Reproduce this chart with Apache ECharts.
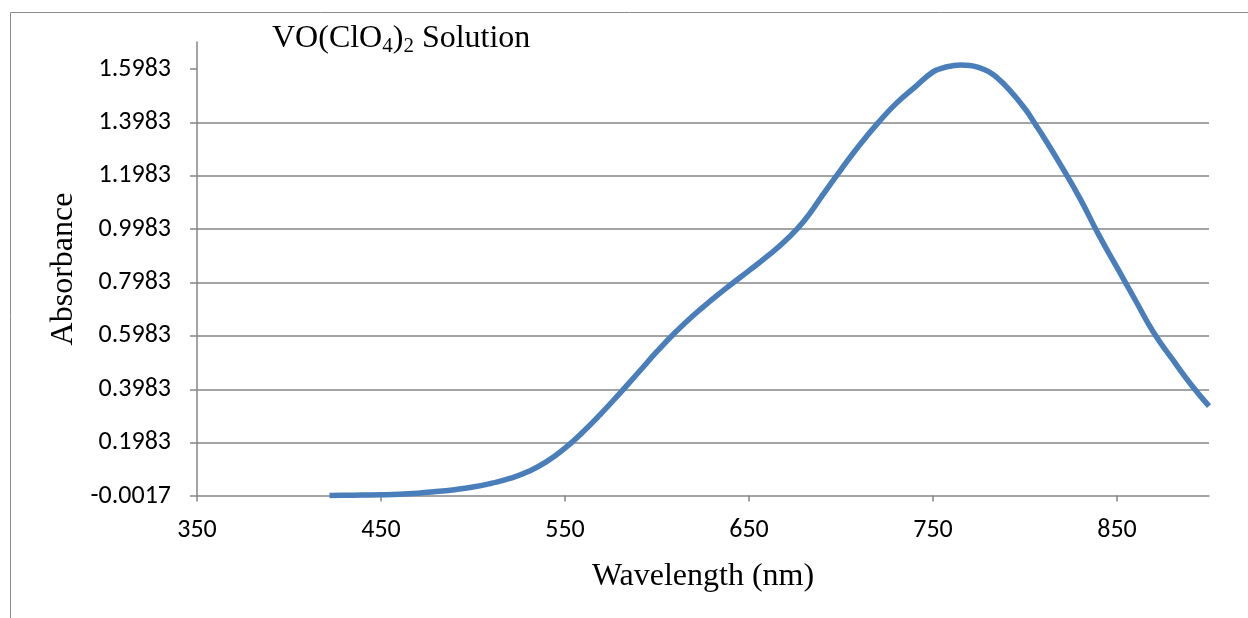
<!DOCTYPE html>
<html>
<head>
<meta charset="utf-8">
<script src="https://cdn.jsdelivr.net/npm/echarts@6/dist/echarts.min.js"></script>
<style>
html,body{margin:0;padding:0;background:#fff;}
#chart{width:1248px;height:618px;}
</style>
</head>
<body>
<div id="chart"></div>
<script>
// ---- data ----
const wavelength = [422,430,440,450,460,470,480,490,500,510,520,530,540,550,560,570,580,590,600,610,620,630,640,650,660,670,680,690,700,710,720,730,740,750,755,760,765,770,775,780,785,790,800,805,810,820,830,840,850,860,870,880,890,900];
const absorbance = [0.000,0.001,0.002,0.003,0.005,0.009,0.015,0.022,0.032,0.046,0.064,0.090,0.127,0.178,0.240,0.310,0.385,0.462,0.540,0.612,0.677,0.735,0.790,0.843,0.897,0.957,1.030,1.126,1.222,1.313,1.396,1.470,1.530,1.588,1.602,1.610,1.614,1.612,1.604,1.590,1.565,1.532,1.450,1.398,1.345,1.232,1.112,0.978,0.855,0.732,0.610,0.512,0.418,0.335];
const xTicks = [350,450,550,650,750,850];
const yTicks = [-0.0017,0.1983,0.3983,0.5983,0.7983,0.9983,1.1983,1.3983,1.5983];
const titleText = '{m|VO(ClO}{s|4}{m|)}{s|2}{m| Solution}';
const xName = 'Wavelength (nm)';
const yName = 'Absorbance';

const seriesData = wavelength.map((w, i) => [w, absorbance[i]]);
const serif = "'Times New Roman','Liberation Serif',serif";
const sans = "Carlito,Calibri,Lato,sans-serif";
const gray = '#868686';

const chart = echarts.init(document.getElementById('chart'), null, {renderer: 'canvas'});
chart.setOption({
  animation: false,
  backgroundColor: '#fff',
  graphic: [{
    type: 'rect', silent: true, z: -10,
    shape: {x: 10.5, y: 12.5, width: 1400, height: 800},
    style: {fill: 'none', stroke: '#8c8c8c', lineWidth: 1}
  }],
  title: {
    text: titleText,
    left: 267, top: 15,
    textStyle: {
      fontWeight: 'normal',
      rich: {
        m: {fontFamily: serif, fontSize: 32, fontWeight: 'normal', color: '#000', lineHeight: 34},
        s: {fontFamily: serif, fontSize: 21, fontWeight: 'normal', color: '#000', padding: [16, 0, 0, 0]}
      }
    }
  },
  grid: {left: 197, right: 39, top: 42, bottom: 122, containLabel: false},
  xAxis: {
    type: 'value', min: 350, max: 900, interval: 100,
    name: xName, nameLocation: 'middle', nameGap: 65,
    nameTextStyle: {fontFamily: serif, fontSize: 32, color: '#000'},
    axisLine: {show: true, lineStyle: {color: gray, width: 1.5}},
    axisTick: {show: true, length: 6, inside: false, customValues: xTicks, lineStyle: {color: gray, width: 1.5}},
    axisLabel: {customValues: xTicks, margin: 21, fontFamily: sans, fontSize: 26, color: '#000'},
    splitLine: {show: false}
  },
  yAxis: {
    type: 'value', min: -0.0017, max: 1.7, interval: 0.2,
    name: yName, nameLocation: 'middle', nameGap: 115, nameRotate: 90,
    nameTextStyle: {fontFamily: serif, fontSize: 32, color: '#000'},
    axisLine: {show: true, lineStyle: {color: gray, width: 1.5}},
    axisTick: {show: true, length: 7, inside: false, customValues: yTicks, lineStyle: {color: gray, width: 1.5}},
    axisLabel: {customValues: yTicks, margin: 26, fontFamily: sans, fontSize: 26, color: '#000',
      formatter: v => Number(v).toFixed(4)},
    splitLine: {show: true, showMinLine: false, showMaxLine: false, lineStyle: {color: gray, width: 1.5}}
  },
  series: [{
    type: 'line', data: seriesData, showSymbol: false, smooth: 0.5,
    lineStyle: {color: '#4a7ebb', width: 5.5}, itemStyle: {color: '#4a7ebb'}
  }]
});
</script>
</body>
</html>
